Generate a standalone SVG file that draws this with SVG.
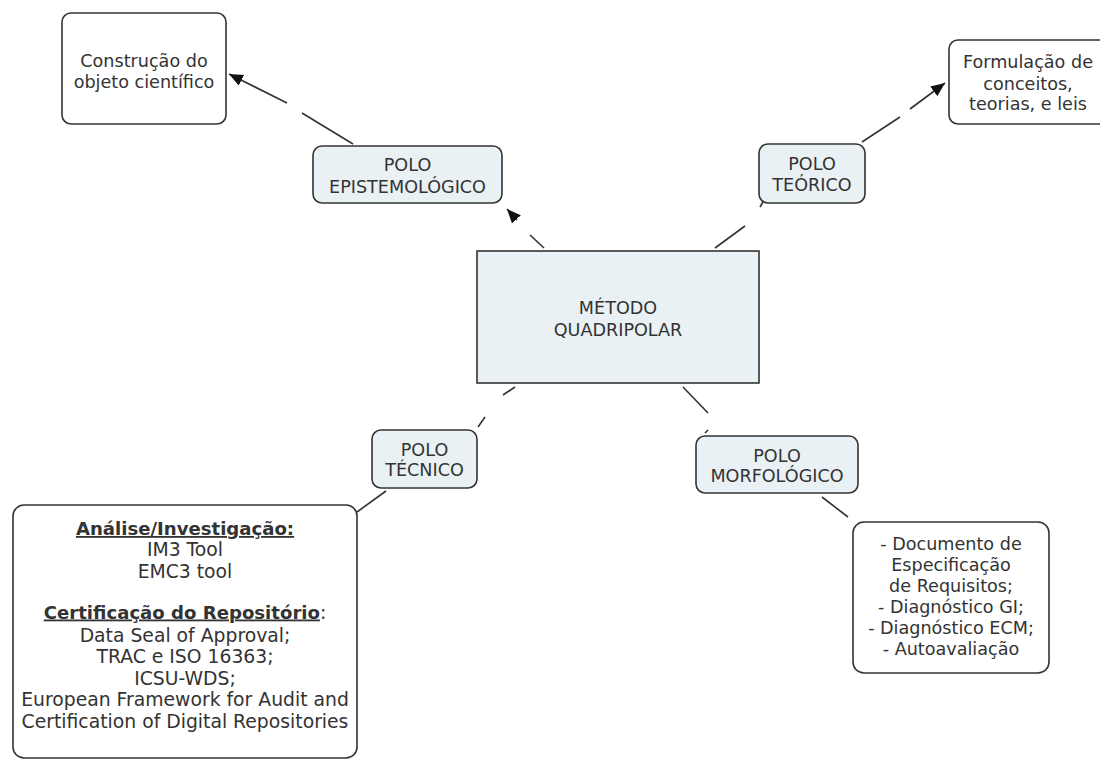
<svg xmlns="http://www.w3.org/2000/svg" width="1100" height="760" viewBox="0 0 1100 760">
<style>
  .pole rect { fill: #e9f1f4; stroke: #333; stroke-width: 1.6; }
  .leaf rect { fill: #ffffff; stroke: #333; stroke-width: 1.6; }
  text { font-family: "DejaVu Sans", Verdana, sans-serif; font-size: 17.6px; fill: #333; text-anchor: middle; }
  #analise text { font-size: 18.8px; }
  #analise .b { font-weight: bold; text-decoration: underline; font-size: 18.1px; }
  #connectors line { stroke: #333; stroke-width: 1.6; fill: none; }
</style>
<defs>
  <marker id="arrow" markerUnits="userSpaceOnUse" markerWidth="15" markerHeight="12" refX="14" refY="6" orient="auto">
    <path d="M0,0 L14,6 L0,12 z" fill="#111"/>
  </marker>
</defs>
<rect width="1100" height="760" fill="#ffffff"/>
<g id="connectors">
  <line x1="544" y1="248" x2="530" y2="235"/>
  <line x1="517" y1="220" x2="507" y2="209" marker-end="url(#arrow)"/>
  <line x1="353" y1="144" x2="302" y2="113"/>
  <line x1="287" y1="103" x2="229" y2="74" marker-end="url(#arrow)"/>
  <line x1="715" y1="248" x2="745" y2="226"/>
  <line x1="760" y1="207" x2="763" y2="202"/>
  <line x1="862" y1="142" x2="900" y2="117"/>
  <line x1="910" y1="109" x2="945" y2="83" marker-end="url(#arrow)"/>
  <line x1="515" y1="387" x2="503" y2="395"/>
  <line x1="485" y1="417" x2="478" y2="427"/>
  <line x1="386" y1="491" x2="357" y2="512"/>
  <line x1="683" y1="387" x2="708" y2="413"/>
  <line x1="705" y1="433" x2="708" y2="430"/>
  <line x1="822" y1="497" x2="848" y2="517"/>
</g>
<g id="metodo" class="pole">
  <rect x="477" y="251" width="282" height="132"/>
  <text x="618" y="314">MÉTODO</text>
  <text x="618" y="335.5">QUADRIPOLAR</text>
</g>
<g id="epistemologico" class="pole">
  <rect x="313" y="146" width="189" height="57" rx="9"/>
  <text x="407.5" y="170.5">POLO</text>
  <text x="407.5" y="193">EPISTEMOLÓGICO</text>
</g>
<g id="teorico" class="pole">
  <rect x="759" y="144" width="106" height="59" rx="9"/>
  <text x="812" y="170">POLO</text>
  <text x="812" y="190.5">TEÓRICO</text>
</g>
<g id="tecnico" class="pole">
  <rect x="372" y="430" width="105" height="58" rx="9"/>
  <text x="424.5" y="455.5">POLO</text>
  <text x="424.5" y="476">TÉCNICO</text>
</g>
<g id="morfologico" class="pole">
  <rect x="696" y="436" width="162" height="57" rx="9"/>
  <text x="777" y="461.5">POLO</text>
  <text x="777" y="482">MORFOLÓGICO</text>
</g>
<g id="construcao" class="leaf">
  <rect x="62" y="13" width="164" height="111" rx="9"/>
  <text x="144" y="66.5">Construção do</text>
  <text x="144" y="87.5">objeto científico</text>
</g>
<g id="formulacao" class="leaf">
  <rect x="949" y="40" width="160" height="84" rx="9"/>
  <text x="1028" y="68">Formulação de</text>
  <text x="1028" y="89.5">conceitos,</text>
  <text x="1028" y="109.5">teorias, e leis</text>
</g>
<g id="analise" class="leaf">
  <rect x="13" y="505" width="344" height="253" rx="11"/>
  <text x="185" y="535"><tspan class="b">Análise/Investigação:</tspan></text>
  <text x="185" y="556.4">IM3 Tool</text>
  <text x="185" y="577.8">EMC3 tool</text>
  <text x="185" y="618.5"><tspan class="b">Certificação do Repositório</tspan>:</text>
  <text x="185" y="641.5">Data Seal of Approval;</text>
  <text x="185" y="663.4">TRAC e ISO 16363;</text>
  <text x="185" y="684.8">ICSU-WDS;</text>
  <text x="185" y="706.2">European Framework for Audit and</text>
  <text x="185" y="727.6">Certification of Digital Repositories</text>
</g>
<g id="documento" class="leaf">
  <rect x="853" y="522" width="196" height="151" rx="11"/>
  <text x="951" y="550">- Documento de</text>
  <text x="951" y="571">Especificação</text>
  <text x="951" y="592">de Requisitos;</text>
  <text x="951" y="613">- Diagnóstico GI;</text>
  <text x="951" y="634">- Diagnóstico ECM;</text>
  <text x="951" y="655">- Autoavaliação</text>
</g>
</svg>
